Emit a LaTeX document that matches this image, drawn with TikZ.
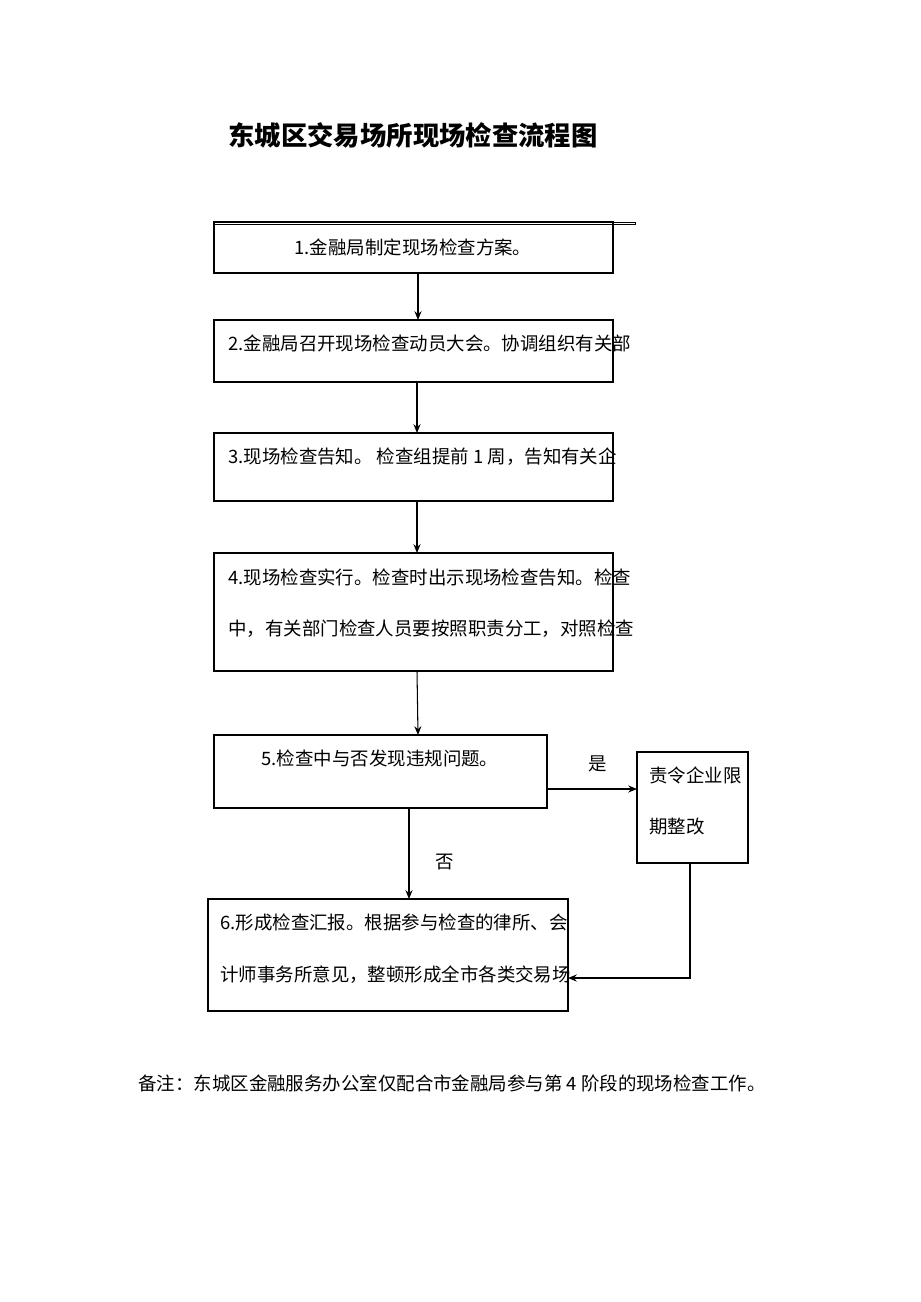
\documentclass[tikz,border=0pt]{standalone}
\usepackage{fontspec}
\setmainfont{Noto Sans CJK SC}
\usetikzlibrary{arrows.meta,positioning}
\tikzset{
  box/.style={draw, line width=0.6pt, inner sep=0pt},
  txt/.style={anchor=west, inner sep=0pt, font=\fontsize{10.5}{12}\selectfont},
  arr/.style={line width=0.6pt, -{Stealth[length=5pt,width=4pt]}}
}
\begin{document}
\begin{tikzpicture}[x=0.02cm,y=-0.02cm]
\useasboundingbox (0,0) rectangle (920,1302);
% title
\node[font=\fontsize{15}{18}\selectfont\bfseries] (title) at (413,135) {东城区交易场所现场检查流程图};

% boxes
\node[box, minimum width=399\pgflinewidth, anchor=north west] (b1) at (214,222) {};
\draw[line width=0.6pt] (214,222) rectangle (613,273);
\coordinate (b1s) at (418,273);
\node[txt, anchor=center] (t1) at (413,247) {1.金融局制定现场检查方案。};

\draw[line width=0.6pt] (214,320) rectangle (613,382);
\coordinate (b2n) at (418,320); \coordinate (b2s) at (417,382);
\node[txt] (t2) at (228,343) {2.金融局召开现场检查动员大会。协调组织有关部};

\draw[line width=0.6pt] (214,433) rectangle (613,501);
\coordinate (b3n) at (417,433); \coordinate (b3s) at (417,501);
\node[txt] (t3) at (228,457) {3.现场检查告知。 检查组提前 1 周，告知有关企};

\draw[line width=0.6pt] (214,553) rectangle (613,671);
\coordinate (b4n) at (417,553); \coordinate (b4s) at (417,671);
\node[txt] (t4a) at (228,577) {4.现场检查实行。检查时出示现场检查告知。检查};
\node[txt] (t4b) at (228,629) {中，有关部门检查人员要按照职责分工，对照检查};

\draw[line width=0.6pt] (214,735) rectangle (547,808);
\coordinate (b5n) at (418,735); \coordinate (b5s) at (409,808); \coordinate (b5e) at (547,789);
\node[txt, anchor=center] (t5) at (380,758) {5.检查中与否发现违规问题。};

\draw[line width=0.6pt] (637,752) rectangle (748,863);
\coordinate (sw) at (637,789); \coordinate (ss) at (690,863);
\node[txt] (ta) at (649,775) {责令企业限};
\node[txt] (tb) at (649,827) {期整改};

\draw[line width=0.6pt] (208,899) rectangle (568,1011);
\coordinate (b6n) at (409,899); \coordinate (b6e) at (568,978);
\node[txt] (t6a) at (220,922) {6.形成检查汇报。根据参与检查的律所、会};
\node[txt] (t6b) at (220,975) {计师事务所意见，整顿形成全市各类交易场};

% connectors
\draw[arr] (b1s) -- (b2n);
\draw[arr] (b2s) -- (b3n);
\draw[arr] (b3s) -- (b4n);
\draw[arr] (b4s) -- (b5n);
\draw[arr] (b5s) -- (b6n);
\draw[arr] (b5e) -- (sw);
\draw[arr] (ss) |- (b6e);
\node[txt, anchor=center] (yes) at (598,764) {是};
\node[txt, anchor=center] (no) at (445,862) {否};

% note
\node[txt] (note) at (138,1083) {备注：东城区金融服务办公室仅配合市金融局参与第 4 阶段的现场检查工作。};
\end{tikzpicture}
\end{document}
